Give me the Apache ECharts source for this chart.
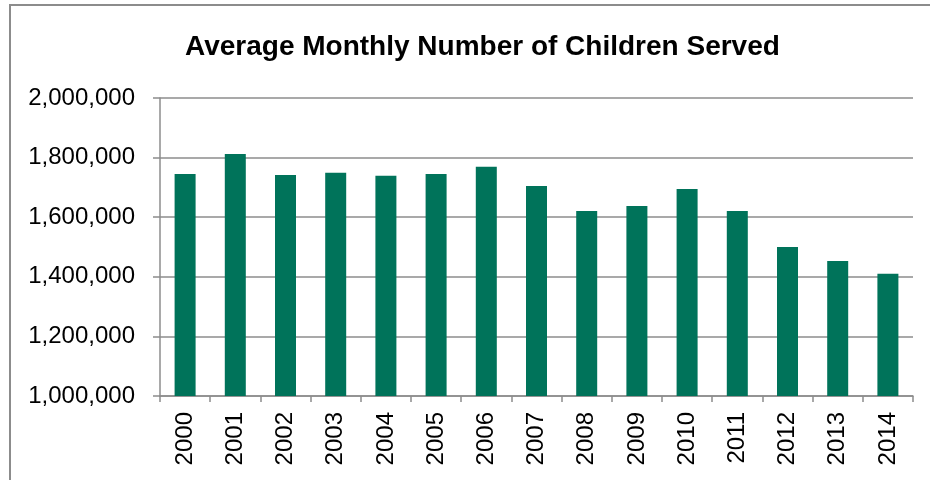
<!DOCTYPE html>
<html>
<head>
<meta charset="utf-8">
<script src="https://cdn.jsdelivr.net/npm/echarts@6/dist/echarts.min.js"></script>
<style>
  html, body { margin: 0; padding: 0; background: #fff; }
  #main { width: 930px; height: 480px; }
</style>
</head>
<body>
<div id="main"></div>
<script>
// 年份和数值
const years = ['2000', '2001', '2002', '2003', '2004', '2005', '2006', '2007',
  '2008', '2009', '2010', '2011', '2012', '2013', '2014']
const children = [1745000, 1812000, 1742000, 1749000, 1739000, 1745000, 1769000, 1705000,
  1621000, 1638000, 1695000, 1621000, 1500000, 1453000, 1410000]
const yMin = 1000000
const yMax = 2000000
const yStep = 200000

const myChart = echarts.init(document.getElementById('main'))
myChart.setOption({
  animation: false,
  title: {
    text: 'Average Monthly Number of Children Served',
    left: 180,
    top: 28,
    textStyle: {
      fontFamily: 'Liberation Sans',
      fontWeight: 'bold',
      fontSize: 28,
      color: '#000'
    }
  },
  // 外框
  graphic: [{
    type: 'rect',
    shape: { x: 10, y: 5, width: 940, height: 500 },
    style: { fill: 'none', stroke: '#8c8c8c', lineWidth: 2 },
    silent: true
  }],
  grid: {
    left: 160,
    right: 17,
    top: 98,
    bottom: 84
  },
  xAxis: {
    type: 'category',
    data: years,
    axisLine: { lineStyle: { color: '#8c8c8c', width: 1.5 } },
    axisTick: { show: true, length: 6, lineStyle: { color: '#8c8c8c', width: 1.5 } },
    axisLabel: {
      rotate: 90,
      margin: 16,
      color: '#000',
      fontFamily: 'Liberation Sans',
      fontSize: 24,
      interval: 0
    }
  },
  yAxis: {
    type: 'value',
    min: yMin,
    max: yMax,
    interval: yStep,
    axisLine: { show: true, lineStyle: { color: '#8c8c8c', width: 1.5 } },
    axisTick: { show: true, length: 7, lineStyle: { color: '#8c8c8c', width: 1.5 } },
    splitLine: { lineStyle: { color: '#8c8c8c', width: 1.5 } },
    axisLabel: {
      margin: 25,
      color: '#000',
      fontFamily: 'Liberation Sans',
      fontSize: 24,
      formatter: (v) => v.toLocaleString('en-US')
    }
  },
  series: [{
    type: 'bar',
    data: children,
    barWidth: 21,
    itemStyle: { color: '#00735A' }
  }]
})
</script>
</body>
</html>
